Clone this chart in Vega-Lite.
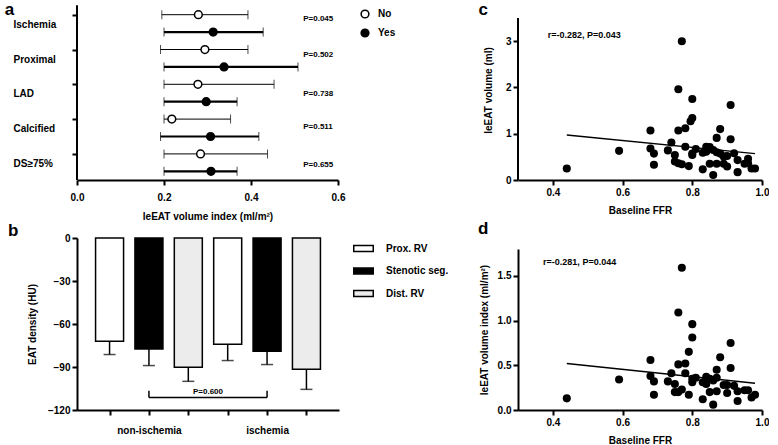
{
  "$schema": "https://vega.github.io/schema/vega-lite/v6.json",
  "padding": {"left": 4, "top": 0, "right": 0, "bottom": 0},
  "config": {
    "font": "Liberation Sans",
    "view": {"stroke": null},
    "axis": {"domainColor": "black", "domainWidth": 2, "tickColor": "black", "tickWidth": 2, "tickSize": 5, "labelColor": "black", "labelFontSize": 10, "labelFontWeight": "bold", "titleFontSize": 10, "titleFontWeight": "bold", "titleColor": "black", "grid": false, "labelFont": "Liberation Sans", "titleFont": "Liberation Sans"},
    "legend": {"labelFontSize": 10, "labelFontWeight": "bold", "labelColor": "black", "labelFont": "Liberation Sans"}
  },
  "datasets": {
    "a": [
      {"row": 1, "variable": "Ischemia", "group": "No", "lo": 0.195, "mean": 0.279, "hi": 0.393},
      {"row": 2, "variable": "Ischemia", "group": "Yes", "lo": 0.2, "mean": 0.313, "hi": 0.428},
      {"row": 3, "variable": "Proximal", "group": "No", "lo": 0.192, "mean": 0.294, "hi": 0.393},
      {"row": 4, "variable": "Proximal", "group": "Yes", "lo": 0.2, "mean": 0.338, "hi": 0.508},
      {"row": 5, "variable": "LAD", "group": "No", "lo": 0.2, "mean": 0.278, "hi": 0.453},
      {"row": 6, "variable": "LAD", "group": "Yes", "lo": 0.2, "mean": 0.297, "hi": 0.368},
      {"row": 7, "variable": "Calcified", "group": "No", "lo": 0.2, "mean": 0.218, "hi": 0.353},
      {"row": 8, "variable": "Calcified", "group": "Yes", "lo": 0.192, "mean": 0.307, "hi": 0.418},
      {"row": 9, "variable": "DS≥75%", "group": "No", "lo": 0.2, "mean": 0.284, "hi": 0.438},
      {"row": 10, "variable": "DS≥75%", "group": "Yes", "lo": 0.2, "mean": 0.308, "hi": 0.368}
    ],
    "aAxis": [{"x": 0, "row": 0.45, "row2": 10.5}],
    "aP": [
      {"x": 0.52, "row": 1.27, "label": "P=0.045"},
      {"x": 0.52, "row": 3.32, "label": "P=0.502"},
      {"x": 0.52, "row": 5.57, "label": "P=0.738"},
      {"x": 0.52, "row": 7.47, "label": "P=0.511"},
      {"x": 0.52, "row": 9.66, "label": "P=0.655"}
    ],
    "aL": [{"x": -0.155, "row": 0.73, "label": "a"}],
    "b": [
      {"pos": 1, "group": "non-ischemia", "type": "Prox. RV", "value": -72.0, "lo": -81.3},
      {"pos": 2, "group": "non-ischemia", "type": "Stenotic seg.", "value": -77.4, "lo": -89.0},
      {"pos": 3, "group": "non-ischemia", "type": "Dist. RV", "value": -90.2, "lo": -100.0},
      {"pos": 4, "group": "ischemia", "type": "Prox. RV", "value": -74.1, "lo": -85.5},
      {"pos": 5, "group": "ischemia", "type": "Stenotic seg.", "value": -79.0, "lo": -88.3},
      {"pos": 6, "group": "ischemia", "type": "Dist. RV", "value": -91.6, "lo": -105.6}
    ],
    "bracket": [
      {"x": 2, "x2": 5, "y": -111.2, "y2": -111.2},
      {"x": 2, "x2": 2, "y": -106.6, "y2": -111.2},
      {"x": 5, "x2": 5, "y": -106.6, "y2": -111.2}
    ],
    "bText": [{"x": 3.5, "y": -107.6, "label": "P=0.600"}],
    "bL": [{"x": -1.45, "y": 4.8, "label": "b"}],
    "c": [
      {"ffr": 0.44, "v": 0.25}, {"ffr": 0.59, "v": 0.63}, {"ffr": 0.68, "v": 1.07}, {"ffr": 0.68, "v": 0.68},
      {"ffr": 0.69, "v": 0.57}, {"ffr": 0.69, "v": 0.33}, {"ffr": 0.73, "v": 0.64}, {"ffr": 0.74, "v": 0.81},
      {"ffr": 0.75, "v": 0.54}, {"ffr": 0.75, "v": 0.4}, {"ffr": 0.76, "v": 1.96}, {"ffr": 0.76, "v": 1.07},
      {"ffr": 0.76, "v": 0.36}, {"ffr": 0.77, "v": 3.0}, {"ffr": 0.77, "v": 0.34}, {"ffr": 0.78, "v": 1.12},
      {"ffr": 0.78, "v": 0.72}, {"ffr": 0.795, "v": 1.27}, {"ffr": 0.79, "v": 0.3}, {"ffr": 0.8, "v": 1.75},
      {"ffr": 0.8, "v": 1.34}, {"ffr": 0.8, "v": 0.57}, {"ffr": 0.8, "v": 0.54}, {"ffr": 0.81, "v": 0.67},
      {"ffr": 0.83, "v": 0.59}, {"ffr": 0.83, "v": 0.23}, {"ffr": 0.84, "v": 0.61}, {"ffr": 0.84, "v": 0.72},
      {"ffr": 0.85, "v": 0.71}, {"ffr": 0.85, "v": 0.35}, {"ffr": 0.86, "v": 0.65}, {"ffr": 0.86, "v": 0.11},
      {"ffr": 0.87, "v": 0.6}, {"ffr": 0.87, "v": 0.91}, {"ffr": 0.87, "v": 0.35}, {"ffr": 0.88, "v": 0.57},
      {"ffr": 0.88, "v": 1.1}, {"ffr": 0.89, "v": 0.51}, {"ffr": 0.89, "v": 0.35}, {"ffr": 0.9, "v": 0.52},
      {"ffr": 0.9, "v": 0.29}, {"ffr": 0.91, "v": 1.62}, {"ffr": 0.91, "v": 0.88}, {"ffr": 0.92, "v": 0.58},
      {"ffr": 0.93, "v": 0.43}, {"ffr": 0.93, "v": 0.17}, {"ffr": 0.95, "v": 0.35}, {"ffr": 0.96, "v": 0.46},
      {"ffr": 0.96, "v": 0.36}, {"ffr": 0.97, "v": 0.25}, {"ffr": 0.98, "v": 0.25}
    ],
    "cAxis": [{"ffr": 0.3, "v": 0, "v2": 3.5}],
    "cLine": [{"ffr": 0.44, "v": 0.97}, {"ffr": 0.98, "v": 0.57}],
    "cText": [{"ffr": 0.385, "v": 3.13, "label": "r=-0.282, P=0.043"}],
    "cL": [{"ffr": 0.2, "v": 3.674, "label": "c"}],
    "d": [
      {"ffr": 0.44, "v": 0.13}, {"ffr": 0.59, "v": 0.34}, {"ffr": 0.68, "v": 0.56}, {"ffr": 0.68, "v": 0.38},
      {"ffr": 0.69, "v": 0.32}, {"ffr": 0.69, "v": 0.17}, {"ffr": 0.73, "v": 0.32}, {"ffr": 0.74, "v": 0.41},
      {"ffr": 0.75, "v": 0.29}, {"ffr": 0.75, "v": 0.2}, {"ffr": 0.76, "v": 1.09}, {"ffr": 0.76, "v": 0.51},
      {"ffr": 0.76, "v": 0.2}, {"ffr": 0.77, "v": 1.59}, {"ffr": 0.77, "v": 0.23}, {"ffr": 0.78, "v": 0.52},
      {"ffr": 0.78, "v": 0.41}, {"ffr": 0.79, "v": 0.65}, {"ffr": 0.79, "v": 0.17}, {"ffr": 0.8, "v": 0.96},
      {"ffr": 0.8, "v": 0.81}, {"ffr": 0.8, "v": 0.31}, {"ffr": 0.8, "v": 0.35}, {"ffr": 0.81, "v": 0.36},
      {"ffr": 0.83, "v": 0.31}, {"ffr": 0.83, "v": 0.12}, {"ffr": 0.84, "v": 0.37}, {"ffr": 0.84, "v": 0.29},
      {"ffr": 0.85, "v": 0.35}, {"ffr": 0.85, "v": 0.2}, {"ffr": 0.86, "v": 0.06}, {"ffr": 0.86, "v": 0.33},
      {"ffr": 0.87, "v": 0.45}, {"ffr": 0.87, "v": 0.36}, {"ffr": 0.87, "v": 0.21}, {"ffr": 0.88, "v": 0.59},
      {"ffr": 0.89, "v": 0.28}, {"ffr": 0.9, "v": 0.28}, {"ffr": 0.9, "v": 0.19}, {"ffr": 0.91, "v": 0.75},
      {"ffr": 0.91, "v": 0.47}, {"ffr": 0.92, "v": 0.27}, {"ffr": 0.93, "v": 0.1}, {"ffr": 0.93, "v": 0.21},
      {"ffr": 0.95, "v": 0.22}, {"ffr": 0.96, "v": 0.22}, {"ffr": 0.97, "v": 0.14}, {"ffr": 0.98, "v": 0.17}
    ],
    "dLine": [{"ffr": 0.44, "v": 0.52}, {"ffr": 0.98, "v": 0.3}],
    "dText": [{"ffr": 0.372, "v": 1.65, "label": "r=-0.281, P=0.044"}],
    "dL": [{"ffr": 0.2, "v": 2.02, "label": "d"}]
  },
  "concat": [
    {
      "vconcat": [
        {
          "width": 261, "height": 180,
          "layer": [
            {
              "data": {"name": "a"},
              "mark": {"type": "rule", "color": "black"},
              "encoding": {
                "x": {"field": "lo", "type": "quantitative", "scale": {"domain": [0, 0.6], "nice": false},
                      "axis": {"values": [0, 0.2, 0.4, 0.6], "format": ".1f", "title": "leEAT volume index (ml/m²)", "labelPadding": 7, "titlePadding": 9, "labelFlush": false}},
                "x2": {"field": "hi"},
                "y": {"field": "row", "type": "quantitative", "scale": {"domain": [0.155, 10.5], "reverse": true, "nice": false, "zero": false},
                      "axis": {"values": [1, 2, 3, 4, 5, 6, 7, 8, 9, 10], "domain": false, "title": null, "labelOverlap": false, "labelFlush": false, "labelAlign": "left", "labelPadding": 59, "labelOffset": 9.5, "labelFontSize": 10,
                               "labelExpr": "datum.value == 1 ? 'Ischemia' : datum.value == 3 ? 'Proximal' : datum.value == 5 ? 'LAD' : datum.value == 7 ? 'Calcified' : datum.value == 9 ? 'DS≥75%' : ''"}},
                "strokeWidth": {"condition": {"test": "datum.group == 'Yes'", "value": 2.2}, "value": 1}
              }
            },
            {
              "data": {"name": "aAxis"},
              "mark": {"type": "rule", "color": "black", "strokeWidth": 2},
              "encoding": {
                "x": {"field": "x", "type": "quantitative"},
                "y": {"field": "row", "type": "quantitative"},
                "y2": {"field": "row2"}
              }
            },
            {
              "data": {"name": "a"},
              "mark": {"type": "tick", "orient": "vertical", "color": "black", "size": 9},
              "encoding": {
                "x": {"field": "lo", "type": "quantitative"},
                "y": {"field": "row", "type": "quantitative"},
                "strokeWidth": {"condition": {"test": "datum.group == 'Yes'", "value": 2.2}, "value": 1}
              }
            },
            {
              "data": {"name": "a"},
              "mark": {"type": "tick", "orient": "vertical", "color": "black", "size": 9},
              "encoding": {
                "x": {"field": "hi", "type": "quantitative"},
                "y": {"field": "row", "type": "quantitative"},
                "strokeWidth": {"condition": {"test": "datum.group == 'Yes'", "value": 2.2}, "value": 1}
              }
            },
            {
              "data": {"name": "a"},
              "mark": {"type": "point", "shape": "circle", "filled": true, "stroke": "black", "strokeWidth": 1.5, "size": 60, "opacity": 1},
              "encoding": {
                "x": {"field": "mean", "type": "quantitative"},
                "y": {"field": "row", "type": "quantitative"},
                "fill": {"field": "group", "type": "nominal", "scale": {"domain": ["No", "Yes"], "range": ["white", "black"]},
                         "legend": {"title": null, "orient": "none", "legendX": 283, "legendY": 9, "symbolType": "circle", "symbolStrokeColor": "black", "symbolStrokeWidth": 1.5, "symbolSize": 60, "rowPadding": 5, "labelOffset": 8}}
              }
            },
            {
              "data": {"name": "aP"},
              "mark": {"type": "text", "align": "left", "baseline": "middle", "fontSize": 8, "fontWeight": "bold", "color": "black"},
              "encoding": {
                "x": {"field": "x", "type": "quantitative"},
                "y": {"field": "row", "type": "quantitative"},
                "text": {"field": "label"}
              }
            },
            {
              "data": {"name": "aL"},
              "mark": {"type": "text", "align": "center", "baseline": "middle", "fontSize": 17, "fontWeight": "bold", "color": "black"},
              "encoding": {
                "x": {"field": "x", "type": "quantitative"},
                "y": {"field": "row", "type": "quantitative"},
                "text": {"field": "label"}
              }
            }
          ]
        },
        {
          "width": 262, "height": 172,
          "layer": [
            {
              "data": {"name": "b"},
              "mark": {"type": "bar", "size": 28, "stroke": "black", "strokeWidth": 1.5},
              "encoding": {
                "x": {"field": "pos", "type": "quantitative", "scale": {"domain": [0.3, 6.7], "nice": false, "zero": false},
                      "axis": {"values": [1, 2, 3, 4, 5, 6], "title": null, "labelPadding": 10, "labelFlush": false, "labelOverlap": false,
                               "labelExpr": "datum.value == 2 ? 'non-ischemia' : datum.value == 5 ? 'ischemia' : ''"}},
                "y": {"field": "value", "type": "quantitative", "scale": {"domain": [-120, 0], "nice": false},
                      "axis": {"values": [0, -30, -60, -90, -120], "title": "EAT density (HU)", "titlePadding": 10}},
                "fill": {"field": "type", "type": "nominal", "scale": {"domain": ["Prox. RV", "Stenotic seg.", "Dist. RV"], "range": ["white", "black", "#ececec"]},
                         "legend": {"title": null, "orient": "none", "legendX": 276, "legendY": 0, "symbolType": "M-1,-0.3H1V0.3H-1Z", "symbolSize": 380, "symbolStrokeColor": "black", "symbolStrokeWidth": 1.5, "rowPadding": 5.5, "labelOffset": 12}}
              }
            },
            {
              "data": {"name": "b"},
              "mark": {"type": "rule", "color": "black", "strokeWidth": 1.5},
              "encoding": {
                "x": {"field": "pos", "type": "quantitative"},
                "y": {"field": "value", "type": "quantitative"},
                "y2": {"field": "lo"}
              }
            },
            {
              "data": {"name": "b"},
              "mark": {"type": "tick", "orient": "horizontal", "color": "black", "size": 12, "thickness": 1.5},
              "encoding": {
                "x": {"field": "pos", "type": "quantitative"},
                "y": {"field": "lo", "type": "quantitative"}
              }
            },
            {
              "data": {"name": "bracket"},
              "mark": {"type": "rule", "color": "black", "strokeWidth": 1.5},
              "encoding": {
                "x": {"field": "x", "type": "quantitative"},
                "x2": {"field": "x2"},
                "y": {"field": "y", "type": "quantitative"},
                "y2": {"field": "y2"}
              }
            },
            {
              "data": {"name": "bText"},
              "mark": {"type": "text", "fontSize": 8, "fontWeight": "bold", "color": "black", "baseline": "middle"},
              "encoding": {
                "x": {"field": "x", "type": "quantitative"},
                "y": {"field": "y", "type": "quantitative"},
                "text": {"field": "label"}
              }
            },
            {
              "data": {"name": "bL"},
              "mark": {"type": "text", "align": "center", "baseline": "middle", "fontSize": 17, "fontWeight": "bold", "color": "black"},
              "encoding": {
                "x": {"field": "x", "type": "quantitative"},
                "y": {"field": "y", "type": "quantitative"},
                "text": {"field": "label"}
              }
            }
          ]
        }
      ],
      "spacing": 1,
      "resolve": {"scale": {"fill": "independent", "x": "independent", "y": "independent"}}
    },
    {
      "vconcat": [
        {
          "width": 244, "height": 180,
          "layer": [
            {
              "data": {"name": "c"},
              "mark": {"type": "point", "shape": "circle", "filled": true, "color": "black", "size": 65, "opacity": 1},
              "encoding": {
                "x": {"field": "ffr", "type": "quantitative", "scale": {"domain": [0.3, 1.0], "nice": false, "zero": false},
                      "axis": {"values": [0.4, 0.6, 0.8, 1.0], "format": ".1f", "title": "Baseline FFR", "labelFlush": false, "titlePadding": 8}},
                "y": {"field": "v", "type": "quantitative", "scale": {"domain": [0, 3.89], "nice": false},
                      "axis": {"values": [0, 1, 2, 3], "format": "d", "domain": false, "title": "leEAT volume (ml)", "titlePadding": 12}}
              }
            },
            {
              "data": {"name": "cAxis"},
              "mark": {"type": "rule", "color": "black", "strokeWidth": 2},
              "encoding": {
                "x": {"field": "ffr", "type": "quantitative"},
                "y": {"field": "v", "type": "quantitative"},
                "y2": {"field": "v2"}
              }
            },
            {
              "data": {"name": "cLine"},
              "mark": {"type": "line", "color": "black", "strokeWidth": 1.5},
              "encoding": {
                "x": {"field": "ffr", "type": "quantitative"},
                "y": {"field": "v", "type": "quantitative"}
              }
            },
            {
              "data": {"name": "cText"},
              "mark": {"type": "text", "align": "left", "baseline": "middle", "fontSize": 9, "fontWeight": "bold", "color": "black"},
              "encoding": {
                "x": {"field": "ffr", "type": "quantitative"},
                "y": {"field": "v", "type": "quantitative"},
                "text": {"field": "label"}
              }
            },
            {
              "data": {"name": "cL"},
              "mark": {"type": "text", "align": "center", "baseline": "middle", "fontSize": 17, "fontWeight": "bold", "color": "black"},
              "encoding": {
                "x": {"field": "ffr", "type": "quantitative"},
                "y": {"field": "v", "type": "quantitative"},
                "text": {"field": "label"}
              }
            }
          ]
        },
        {
          "width": 244, "height": 161,
          "layer": [
            {
              "data": {"name": "d"},
              "mark": {"type": "point", "shape": "circle", "filled": true, "color": "black", "size": 65, "opacity": 1},
              "encoding": {
                "x": {"field": "ffr", "type": "quantitative", "scale": {"domain": [0.3, 1.0], "nice": false, "zero": false},
                      "axis": {"values": [0.4, 0.6, 0.8, 1.0], "format": ".1f", "title": "Baseline FFR", "labelFlush": false, "titlePadding": 8}},
                "y": {"field": "v", "type": "quantitative", "scale": {"domain": [0, 1.8], "nice": false},
                      "axis": {"values": [0, 0.5, 1.0, 1.5], "format": ".1f", "title": "leEAT volume index (ml/m²)", "titlePadding": 8}}
              }
            },
            {
              "data": {"name": "dLine"},
              "mark": {"type": "line", "color": "black", "strokeWidth": 1.5},
              "encoding": {
                "x": {"field": "ffr", "type": "quantitative"},
                "y": {"field": "v", "type": "quantitative"}
              }
            },
            {
              "data": {"name": "dText"},
              "mark": {"type": "text", "align": "left", "baseline": "middle", "fontSize": 9, "fontWeight": "bold", "color": "black"},
              "encoding": {
                "x": {"field": "ffr", "type": "quantitative"},
                "y": {"field": "v", "type": "quantitative"},
                "text": {"field": "label"}
              }
            },
            {
              "data": {"name": "dL"},
              "mark": {"type": "text", "align": "center", "baseline": "middle", "fontSize": 17, "fontWeight": "bold", "color": "black"},
              "encoding": {
                "x": {"field": "ffr", "type": "quantitative"},
                "y": {"field": "v", "type": "quantitative"},
                "text": {"field": "label"}
              }
            }
          ]
        }
      ],
      "spacing": 5,
      "resolve": {"scale": {"x": "independent", "y": "independent"}}
    }
  ],
  "columns": 2,
  "align": "none",
  "spacing": 28,
  "resolve": {"scale": {"fill": "independent", "x": "independent", "y": "independent"}}
}
